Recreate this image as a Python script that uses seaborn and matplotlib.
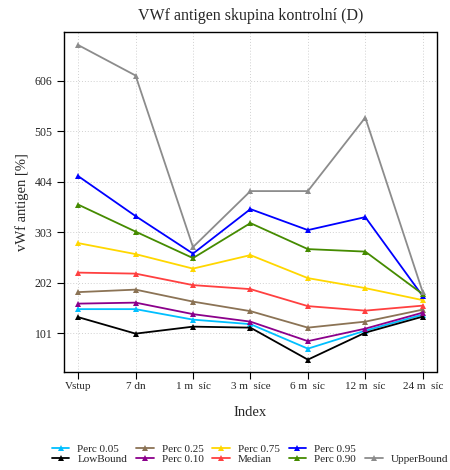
import numpy as np
import pandas as pd
import matplotlib
matplotlib.use("Agg")
import matplotlib.pyplot as plt
import seaborn as sns
from matplotlib.lines import Line2D

sns.set_style("white")
plt.rcParams['font.family'] = ['Liberation Serif', 'DejaVu Serif']

# Data
timepoints = ["Vstup", "7 dn", "1 m  síc", "3 m  síce", "6 m  síc", "12 m  síc", "24 m  síc"]

perc_005 = [149, 149, 128, 119, 70, 106, 138]
low_bound = [133, 100, 114, 112, 48, 102, 134]
perc_025 = [183, 188, 164, 145, 112, 124, 148]
perc_010 = [160, 162, 139, 124, 85, 110, 142]
perc_075 = [281, 259, 230, 257, 211, 191, 167]
median = [222, 220, 197, 189, 155, 146, 156]
perc_095 = [415, 335, 260, 349, 307, 333, 175]
perc_090 = [358, 304, 251, 321, 269, 264, 179]
upper_bound = [677, 616, 273, 385, 385, 532, 183]

series_names = ["Perc 0.05", "LowBound", "Perc 0.25", "Perc 0.10", "Perc 0.75",
                "Median", "Perc 0.95", "Perc 0.90", "UpperBound"]
series_values = [perc_005, low_bound, perc_025, perc_010, perc_075,
                 median, perc_095, perc_090, upper_bound]
series_colors = ["#00BFFF", "#000000", "#8B7355", "#8B008B", "#FFD700",
                 "#FF4040", "#0000FF", "#458B00", "#8C8C8C"]

y_ticks = [101, 202, 303, 404, 505, 606]

df = pd.DataFrame({
    "idx": np.tile(np.arange(len(timepoints)), len(series_names)),
    "value": np.concatenate(series_values),
    "series": np.repeat(series_names, len(timepoints)),
})

fig = plt.figure(figsize=(4.5, 4.7), dpi=100)
ax = fig.add_axes([0.143, 0.208, 0.827, 0.723])

# grid first, under the lines
for xi in range(len(timepoints)):
    ax.axvline(xi, color="#d0d0d0", lw=0.7, ls=(0, (1, 2)), zorder=0)
for yt in y_ticks:
    ax.axhline(yt, color="#d0d0d0", lw=0.7, ls=(0, (1, 2)), zorder=0)

for name, col in zip(series_names, series_colors):
    sub = df[df["series"] == name]
    sns.lineplot(data=sub, x="idx", y="value", ax=ax, color=col, lw=1.3,
                 marker="^", markersize=5, markeredgewidth=0, legend=False)

allv = np.concatenate(series_values)
pad = 0.04 * (allv.max() - allv.min())
ax.set_ylim(allv.min() - pad, allv.max() + pad)
ax.set_xlim(-0.24, len(timepoints) - 1 + 0.24)

ax.set_xticks(range(len(timepoints)))
ax.set_xticklabels(timepoints, fontsize=8)
ax.set_yticks(y_ticks)
ax.set_yticklabels([str(t) for t in y_ticks], fontsize=8.5)
ax.tick_params(axis="both", direction="out", length=5, width=0.8, color="black",
               bottom=True, left=True)
ax.tick_params(axis="x", pad=2)

for s in ax.spines.values():
    s.set_color("black")
    s.set_linewidth(1.0)

ax.set_xlabel("Index", fontsize=10.5, labelpad=11)
ax.set_ylabel("vWf antigen [%]", fontsize=10.5, labelpad=4)
ax.set_title("VWf antigen skupina kontrolní (D)", fontsize=11.5, pad=9)

# legend: 5 columns, UpperBound in bottom row
handles = []
labels = []
for name, col in zip(series_names, series_colors):
    handles.append(Line2D([], [], color=col, lw=1.3, marker="^", markersize=4,
                          markeredgewidth=0))
    labels.append(name)
handles.insert(8, Line2D([], [], color="none"))
labels.insert(8, "")
fig.legend(handles, labels, ncol=5, loc="center", bbox_to_anchor=(0.555, 0.034),
           frameon=False, fontsize=8, handlelength=1.6, handletextpad=0.7,
           columnspacing=0.8, labelspacing=0.05, borderpad=0)

fig.savefig("out.png", dpi=100)
